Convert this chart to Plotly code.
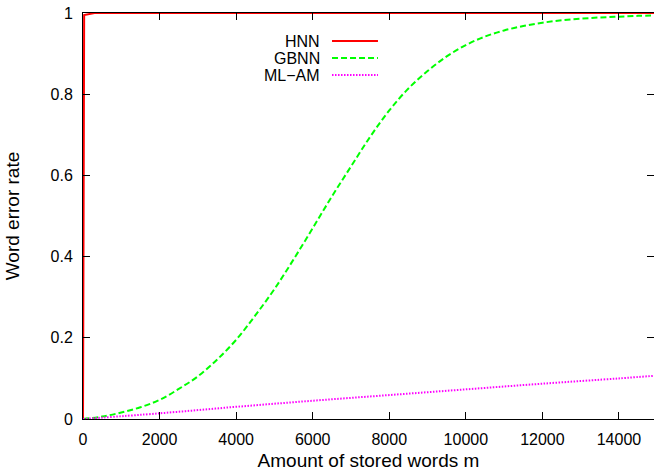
import plotly.graph_objects as go

# ---- data ----
hnn_m = [0, 30, 300, 15000]
hnn_err = [0.0, 0.995, 1.0, 1.0]

gbnn_m = [0, 500, 1000, 1500, 2000, 2500, 3000, 3500, 4000, 4500, 5000, 5500,
          6000, 6500, 7000, 7500, 8000, 8500, 9000, 9500, 10000, 10500, 11000,
          11500, 12000, 12500, 13000, 13500, 14000, 14500, 15000]
gbnn_err = [0.000, 0.006, 0.016, 0.029, 0.047, 0.074, 0.105, 0.146, 0.195,
            0.255, 0.320, 0.393, 0.470, 0.548, 0.622, 0.695, 0.760, 0.814,
            0.857, 0.893, 0.921, 0.942, 0.957, 0.968, 0.976, 0.982, 0.986,
            0.989, 0.991, 0.993, 0.994]

mlam_m = [0, 2000, 4000, 6000, 8000, 10000, 12000, 14000, 15000]
mlam_err = [0.0, 0.014, 0.030, 0.045, 0.059, 0.073, 0.087, 0.100, 0.107]

x_ticks = [0, 2000, 4000, 6000, 8000, 10000, 12000, 14000]
y_ticks = [0, 0.2, 0.4, 0.6, 0.8, 1]

series_names = ["HNN", "GBNN", "ML\u2212AM"]
series_colors = ["#ff0000", "#00ff00", "#ff00ff"]
series_dash = ["solid", "6px,3px", "1.5px,1.5px"]

FONT = "Liberation Sans, Arial, sans-serif"
FS = 16

fig = go.Figure()
fig.add_trace(go.Scatter(x=hnn_m, y=hnn_err, mode="lines", name=series_names[0],
                         line=dict(color=series_colors[0], width=2, dash=series_dash[0]),
                         showlegend=False))
fig.add_trace(go.Scatter(x=gbnn_m, y=gbnn_err, mode="lines", name=series_names[1],
                         line=dict(color=series_colors[1], width=2, dash=series_dash[1],
                                   shape="spline", smoothing=1),
                         showlegend=False))
fig.add_trace(go.Scatter(x=mlam_m, y=mlam_err, mode="lines", name=series_names[2],
                         line=dict(color=series_colors[2], width=2, dash=series_dash[2],
                                   shape="spline"),
                         showlegend=False))

# invisible trace to drive a right-side y axis (ticks only, no line)
fig.add_trace(go.Scatter(x=[0], y=[0], yaxis="y2", mode="lines",
                         line=dict(width=0), showlegend=False, hoverinfo="skip"))

# manual gnuplot-style legend (text right-aligned, sample on the right)
leg_y = [0.931, 0.889, 0.847]
for name, col, dash, yy in zip(series_names, series_colors, series_dash, leg_y):
    fig.add_annotation(x=0.4186, y=yy, xref="paper", yref="paper", text=name,
                       showarrow=False, xanchor="right", yanchor="middle",
                       font=dict(family=FONT, size=FS, color="black"))
    fig.add_shape(type="line", xref="paper", yref="paper",
                  x0=0.4361, x1=0.5166, y0=yy, y1=yy,
                  line=dict(color=col, width=2, dash=dash))

fig.update_layout(
    width=654, height=473,
    margin=dict(l=83, r=0, t=13, b=54),
    paper_bgcolor="white", plot_bgcolor="white",
    font=dict(family=FONT, size=FS, color="black"),
    xaxis=dict(range=[0, 14915], tickvals=x_ticks, tickformat="d",
               ticks="inside", ticklen=7, tickcolor="black", tickwidth=1,
               showline=True, linecolor="black", linewidth=1, mirror="ticks",
               showgrid=False, zeroline=False, automargin=False,
               ticklabelstandoff=6,
               title=dict(text="Amount of stored words m", standoff=6)),
    yaxis=dict(range=[0, 1], tickvals=y_ticks,
               ticks="inside", ticklen=7, tickcolor="black", tickwidth=1,
               showline=True, linecolor="black", linewidth=1, mirror=False,
               showgrid=False, zeroline=False, automargin=False,
               ticklabelstandoff=6,
               title=dict(text="Word error rate", standoff=25)),
    yaxis2=dict(range=[0, 1], tickvals=y_ticks, overlaying="y", side="right",
                ticks="inside", ticklen=7, tickcolor="black", tickwidth=1,
                showline=False, showticklabels=False, showgrid=False,
                zeroline=False, automargin=False),
)

fig.write_html(
    "out.html",
    config={"displayModeBar": False},
    post_script="document.body.style.margin='0px';"
                "document.body.style.overflow='hidden';",
)
